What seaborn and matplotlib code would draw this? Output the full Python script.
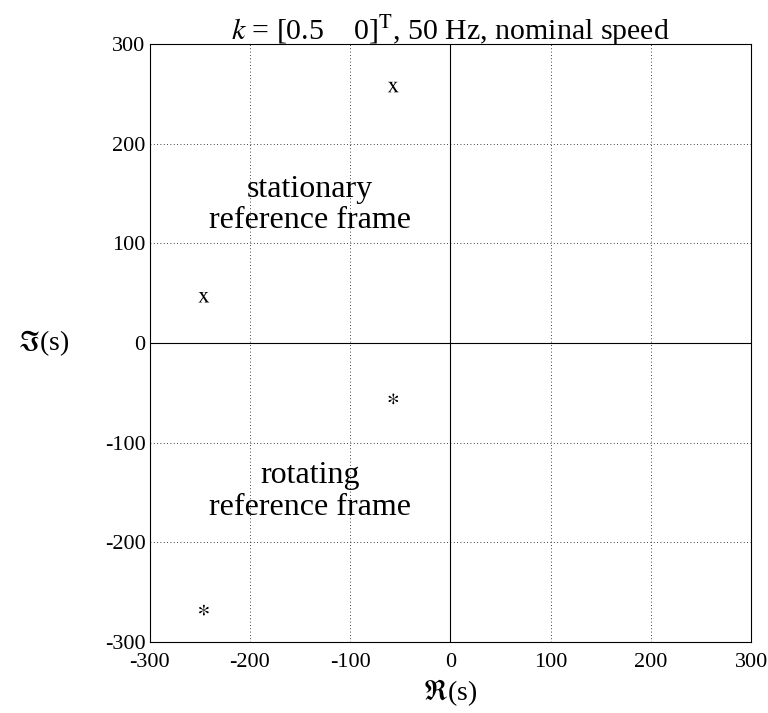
import numpy as np
import pandas as pd
import matplotlib
matplotlib.use("Agg")
import matplotlib.pyplot as plt
import seaborn as sns

# poles
stationary_re = [-57, -246]
stationary_im = [257, 46]
rotating_re = [-57, -246]
rotating_im = [-56, -268]
ticks = [-300, -200, -100, 0, 100, 200, 300]

sns.set_theme(style="white")
plt.rcParams["font.family"] = ["Liberation Serif", "DejaVu Serif"]
plt.rcParams["mathtext.fontset"] = "stix"
plt.rcParams["axes.unicode_minus"] = False

df = pd.DataFrame({
    "re": stationary_re + rotating_re,
    "im": stationary_im + rotating_im,
    "frame": ["stationary"] * len(stationary_re) + ["rotating"] * len(rotating_re),
})

fig = plt.figure(figsize=(7.68, 7.13), dpi=100)
ax = fig.add_axes([0.195, 0.0996, 0.783, 0.8384])

ax.axhline(0, color="black", lw=0.8, zorder=1)
ax.axvline(0, color="black", lw=0.8, zorder=1)

sns.scatterplot(data=df, x="re", y="im", style="frame",
                markers={"stationary": r"$\mathrm{x}$", "rotating": r"$*$"},
                color="black", s=60, linewidth=0, legend=False, ax=ax, zorder=3)

ax.set_xlim(-300, 300)
ax.set_ylim(-300, 300)
ax.set_xticks(ticks)
ax.set_yticks(ticks)
ax.grid(True, linestyle=(0, (1, 3)), color="black", linewidth=0.6)
ax.tick_params(direction="in", length=5, labelsize=16, colors="black")
ax.tick_params(axis="x", pad=8)
ax.tick_params(axis="y", pad=3)
for s in ax.spines.values():
    s.set_color("black")
    s.set_linewidth(0.8)

ax.text(-140, 139, "stationary\nreference frame", ha="center", va="center",
        fontsize=23, linespacing=1.1, color="black")
ax.text(-140, -149, "rotating\nreference frame", ha="center", va="center",
        fontsize=23, linespacing=1.1, color="black")

ax.set_xlabel(r"$\Re$(s)", fontsize=20, color="black", labelpad=4)
ax.set_ylabel(r"$\Im$(s)", fontsize=20, color="black", rotation=0, labelpad=44,
              va="center")
ax.set_title(r"$k$ = [0.5    0]$^{\rm T}$, 50 Hz, nominal speed", fontsize=21.5,
             color="black", pad=3)

fig.savefig("out.png", dpi=100)
